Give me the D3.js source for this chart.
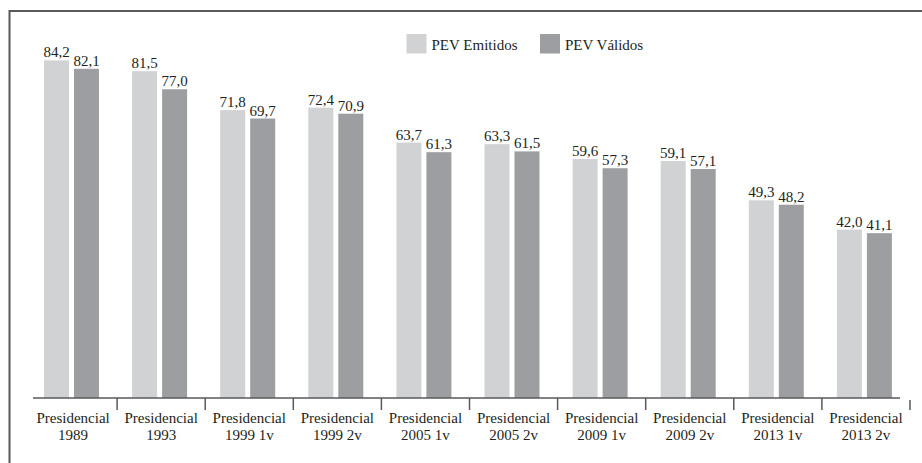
<!DOCTYPE html>
<html>
<head>
<meta charset="utf-8">
<script src="https://cdn.jsdelivr.net/npm/d3@7"></script>
<style>
  html, body { margin: 0; padding: 0; background: #ffffff; }
  svg { display: block; }
  text { font-family: "Liberation Serif", "DejaVu Serif", serif; fill: #231f20; }
</style>
</head>
<body>
<svg id="chart" width="922" height="463"></svg>
<script>
const categories = ["Presidencial 1989", "Presidencial 1993", "Presidencial 1999 1v", "Presidencial 1999 2v",
  "Presidencial 2005 1v", "Presidencial 2005 2v", "Presidencial 2009 1v", "Presidencial 2009 2v",
  "Presidencial 2013 1v", "Presidencial 2013 2v"];
const categoryLines = [["Presidencial", "1989"], ["Presidencial", "1993"], ["Presidencial", "1999 1v"], ["Presidencial", "1999 2v"],
  ["Presidencial", "2005 1v"], ["Presidencial", "2005 2v"], ["Presidencial", "2009 1v"], ["Presidencial", "2009 2v"],
  ["Presidencial", "2013 1v"], ["Presidencial", "2013 2v"]];
const seriesNames = ["PEV Emitidos", "PEV Válidos"];
const emitidos = [84.2, 81.5, 71.8, 72.4, 63.7, 63.3, 59.6, 59.1, 49.3, 42.0];
const validos = [82.1, 77.0, 69.7, 70.9, 61.3, 61.5, 57.3, 57.1, 48.2, 41.1];
const seriesColors = ["#d1d2d4", "#9d9ea1"];

const svg = d3.select("#chart");
const axisY = 398;

// frame (top and left edges)
svg.append("line").attr("x1", 9.5).attr("x2", 922).attr("y1", 11).attr("y2", 11)
  .attr("stroke", "#58595b").attr("stroke-width", 2);
svg.append("line").attr("x1", 9.5).attr("x2", 9.5).attr("y1", 10).attr("y2", 463)
  .attr("stroke", "#58595b").attr("stroke-width", 2);

const x0 = d3.scaleBand().domain(categories).range([29, 910]).padding(0);
const x1 = d3.scaleBand().domain(seriesNames).range([15, 70]).paddingInner(1/6).paddingOuter(0);
const y = d3.scaleLinear().domain([0, 100]).range([axisY, -3]);

const rows = categories.map((c, i) => ({ cat: c, vals: [emitidos[i], validos[i]] }));
const fmt = v => d3.format(".1f")(v).replace(".", ",");

const groups = svg.selectAll("g.cat").data(rows).join("g")
  .attr("class", "cat")
  .attr("transform", d => `translate(${x0(d.cat)},0)`);

groups.selectAll("rect").data(d => d.vals.map((v, j) => ({ s: seriesNames[j], v, j }))).join("rect")
  .attr("x", d => x1(d.s))
  .attr("width", x1.bandwidth())
  .attr("y", d => y(d.v))
  .attr("height", d => y(0) - y(d.v))
  .attr("fill", d => seriesColors[d.j]);

groups.selectAll("text.val").data(d => d.vals.map((v, j) => ({ s: seriesNames[j], v, j }))).join("text")
  .attr("class", "val")
  .attr("x", d => x1(d.s) + x1.bandwidth() / 2)
  .attr("y", d => y(d.v) - 3)
  .attr("text-anchor", "middle")
  .attr("font-size", 15)
  .text(d => fmt(d.v));

// x axis baseline
svg.append("line").attr("x1", 33).attr("x2", 900).attr("y1", axisY).attr("y2", axisY)
  .attr("stroke", "#58595b").attr("stroke-width", 1.5);

// ticks at band boundaries
svg.selectAll("line.tick").data(categories).join("line")
  .attr("class", "tick")
  .attr("x1", d => x0(d) + x0.bandwidth())
  .attr("x2", d => x0(d) + x0.bandwidth())
  .attr("y1", (d, i) => i === categories.length - 1 ? axisY + 2 : axisY)
  .attr("y2", axisY + 12)
  .attr("stroke", "#58595b").attr("stroke-width", 1.5);

// category labels
const lab = svg.selectAll("text.cat").data(categories).join("text")
  .attr("class", "cat")
  .attr("text-anchor", "middle")
  .attr("font-size", 15)
  .attr("transform", d => `translate(${x0(d) + x0.bandwidth() / 2},0)`);
lab.selectAll("tspan").data((d, i) => categoryLines[i]).join("tspan")
  .attr("x", 0)
  .attr("y", (d, k) => 423 + k * 17)
  .text(d => d);

// legend
const legendX = [406.5, 540];
const leg = svg.selectAll("g.leg").data(seriesNames).join("g")
  .attr("class", "leg")
  .attr("transform", (d, i) => `translate(${legendX[i]},34)`);
leg.append("rect").attr("width", 20).attr("height", 19.5).attr("fill", (d, i) => seriesColors[i]);
leg.append("text").attr("x", 25).attr("y", 15.5).attr("font-size", 15).text(d => d);
</script>
</body>
</html>
